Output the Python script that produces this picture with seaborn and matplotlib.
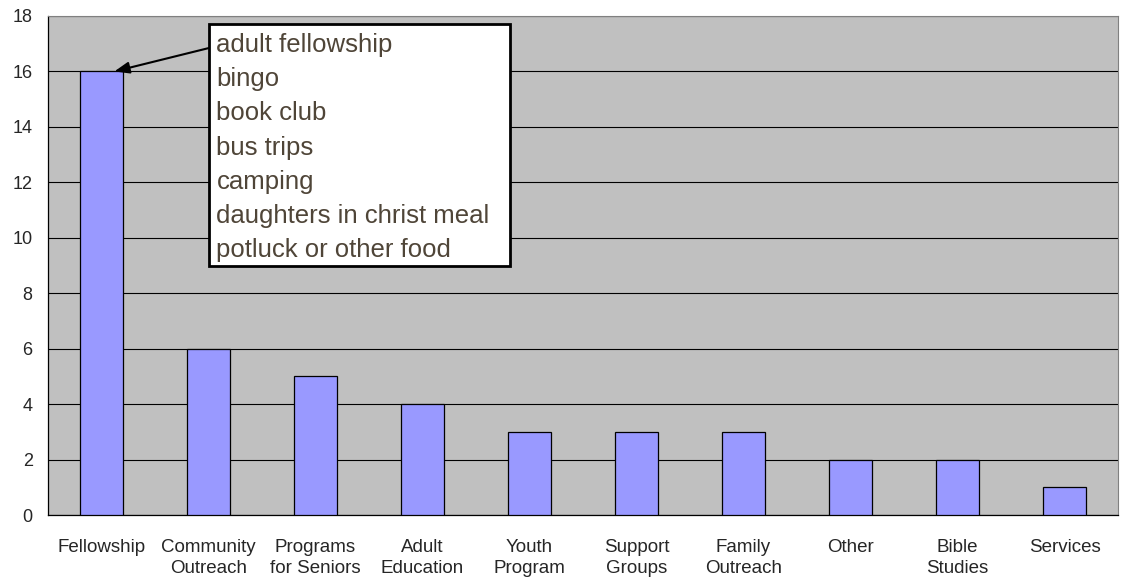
import matplotlib
matplotlib.use("Agg")
import matplotlib.pyplot as plt
import seaborn as sns
import pandas as pd
from matplotlib.patches import Rectangle

categories = ["Fellowship", "Community\nOutreach", "Programs\nfor Seniors", "Adult\nEducation",
              "Youth\nProgram", "Support\nGroups", "Family\nOutreach", "Other",
              "Bible\nStudies", "Services"]
counts = [16, 6, 5, 4, 3, 3, 3, 2, 2, 1]
note_lines = ["adult fellowship", "bingo", "book club", "bus trips", "camping",
              "daughters in christ meal", "potluck or other food"]
y_ticks = list(range(0, 19, 2))

df = pd.DataFrame({"category": categories, "count": counts})

sns.set_style("white")
plt.rcParams["font.family"] = ["Liberation Sans", "DejaVu Sans"]

fig = plt.figure(figsize=(11.24, 5.8), dpi=100)
ax = fig.add_axes([48 / 1124, 1 - 515 / 580, 1070 / 1124, 499 / 580])

sns.barplot(data=df, x="category", y="count", ax=ax, color="#9999FF",
            saturation=1, width=0.4, edgecolor="black", linewidth=0.9, zorder=3)

ax.set_facecolor("#C0C0C0")
ax.set_xlim(-0.5, len(categories) - 0.5)
ax.set_ylim(0, 18)
ax.set_yticks(y_ticks)
ax.yaxis.grid(True, color="black", linewidth=0.8, zorder=1)
ax.set_axisbelow(True)
ax.set_xlabel("")
ax.set_ylabel("")

# category ticks sit between the bars, labels centred under them
ax.set_xticks([i - 0.5 for i in range(len(categories) + 1)], minor=True)
ax.tick_params(axis="x", which="major", length=0, pad=17, labelsize=13.5)
for lbl in ax.get_xticklabels():
    lbl.set_linespacing(1.3)
ax.tick_params(axis="x", which="minor", length=5, width=0.9, direction="out", color="black")
ax.tick_params(axis="y", length=5, width=0.9, direction="out", color="black", labelsize=13, pad=6)

for side in ["top", "right"]:
    ax.spines[side].set_color("#808080")
    ax.spines[side].set_linewidth(0.8)
for side in ["left", "bottom"]:
    ax.spines[side].set_color("black")
    ax.spines[side].set_linewidth(0.9)

# callout box listing the fellowship activities
bx0, bx1 = (209 - 48) / 1070, (510 - 48) / 1070
by0, by1 = (515 - 266) / 499, (515 - 24) / 499
ax.add_patch(Rectangle((bx0, by0), bx1 - bx0, by1 - by0, transform=ax.transAxes,
                       facecolor="white", edgecolor="black", linewidth=2, zorder=5))
for i, line in enumerate(note_lines):
    ax.text(bx0 + 0.007, (515 - 45 - 34.2 * i) / 499, line, transform=ax.transAxes,
            ha="left", va="center", fontsize=18.5, color="#4f4538", zorder=6)

ax.annotate("", xy=(0.12, counts[0]), xycoords="data",
            xytext=(bx0, (515 - 48) / 499), textcoords="axes fraction",
            arrowprops=dict(arrowstyle="-|>,head_length=0.9,head_width=0.35",
                            color="black", linewidth=1.5, shrinkA=0, shrinkB=0),
            zorder=6)

fig.savefig("out.png", dpi=100)
